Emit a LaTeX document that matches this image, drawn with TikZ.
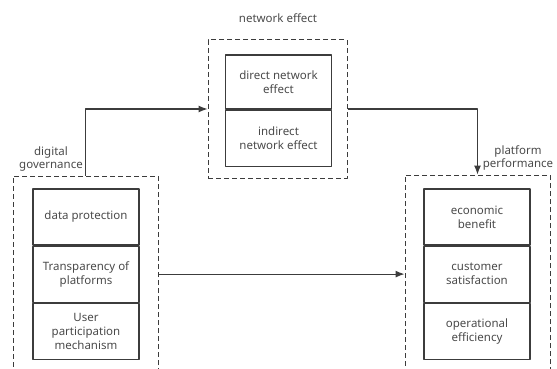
\documentclass[tikz,border=0pt]{standalone}
\usepackage{fontspec}
\setmainfont{Noto Sans}
\usepackage{tikz}
\usetikzlibrary{arrows.meta,positioning}

\definecolor{linegray}{HTML}{3C3C3C}
\definecolor{textgray}{HTML}{4A4A4A}

\tikzset{
  itembox/.style={draw=linegray,line width=1.1pt,minimum width=106pt,minimum height=56pt,
    inner sep=2pt,align=center,text=textgray,
    font=\fontsize{11.5}{14}\selectfont},
  groupbox/.style={draw=linegray,line width=1pt,dash pattern=on 5pt off 3pt,
    minimum width=145pt,inner sep=0pt},
  grouplabel/.style={align=center,text=textgray,font=\fontsize{11.5}{13}\selectfont,inner sep=0pt},
  link/.style={draw=linegray,line width=1.1pt,-{Latex[length=9pt,width=7pt]}}
}

\begin{document}
\begin{tikzpicture}[x=1pt,y=-1pt,line join=round]
  \useasboundingbox (0,0) rectangle (557,369);

  % dashed groups
  \node[groupbox,minimum height=220pt] (gov) at (85.5,286) {};
  \node[groupbox,minimum width=139pt,minimum height=138pt] (net) at (277.5,109) {};
  \node[groupbox,minimum height=220pt] (perf) at (477.5,285) {};

  % digital governance
  \node[itembox] (data) at (86,217) {data protection};
  \node[itembox,below=0pt of data] (trans) {Transparency of\\platforms};
  \node[itembox,below=0pt of trans] (user) {User\\participation\\mechanism};

  % network effect
  \node[itembox,minimum height=54pt] (direct) at (278.5,82) {direct network\\effect};
  \node[itembox,below=0pt of direct] (indirect) {indirect\\network effect};

  % platform performance
  \node[itembox] (econ) at (477,217) {economic\\benefit};
  \node[itembox,below=0pt of econ] (cust) {customer\\satisfaction};
  \node[itembox,below=0pt of cust] (oper) {operational\\efficiency};

  % group titles
  \node[grouplabel] (govlabel) at (51,159) {digital\\governance};
  \node[grouplabel] (netlabel) at (278,18) {network effect};
  \node[grouplabel] (perflabel) at (518,158) {platform\\performance};

  % connectors
  \draw[link] (gov.north) |- (net.west);
  \draw[link] (net.east) -| (perf.north);
  \draw[link] (trans.east -| gov.east) -- (cust.west -| perf.west);
\end{tikzpicture}
\end{document}
